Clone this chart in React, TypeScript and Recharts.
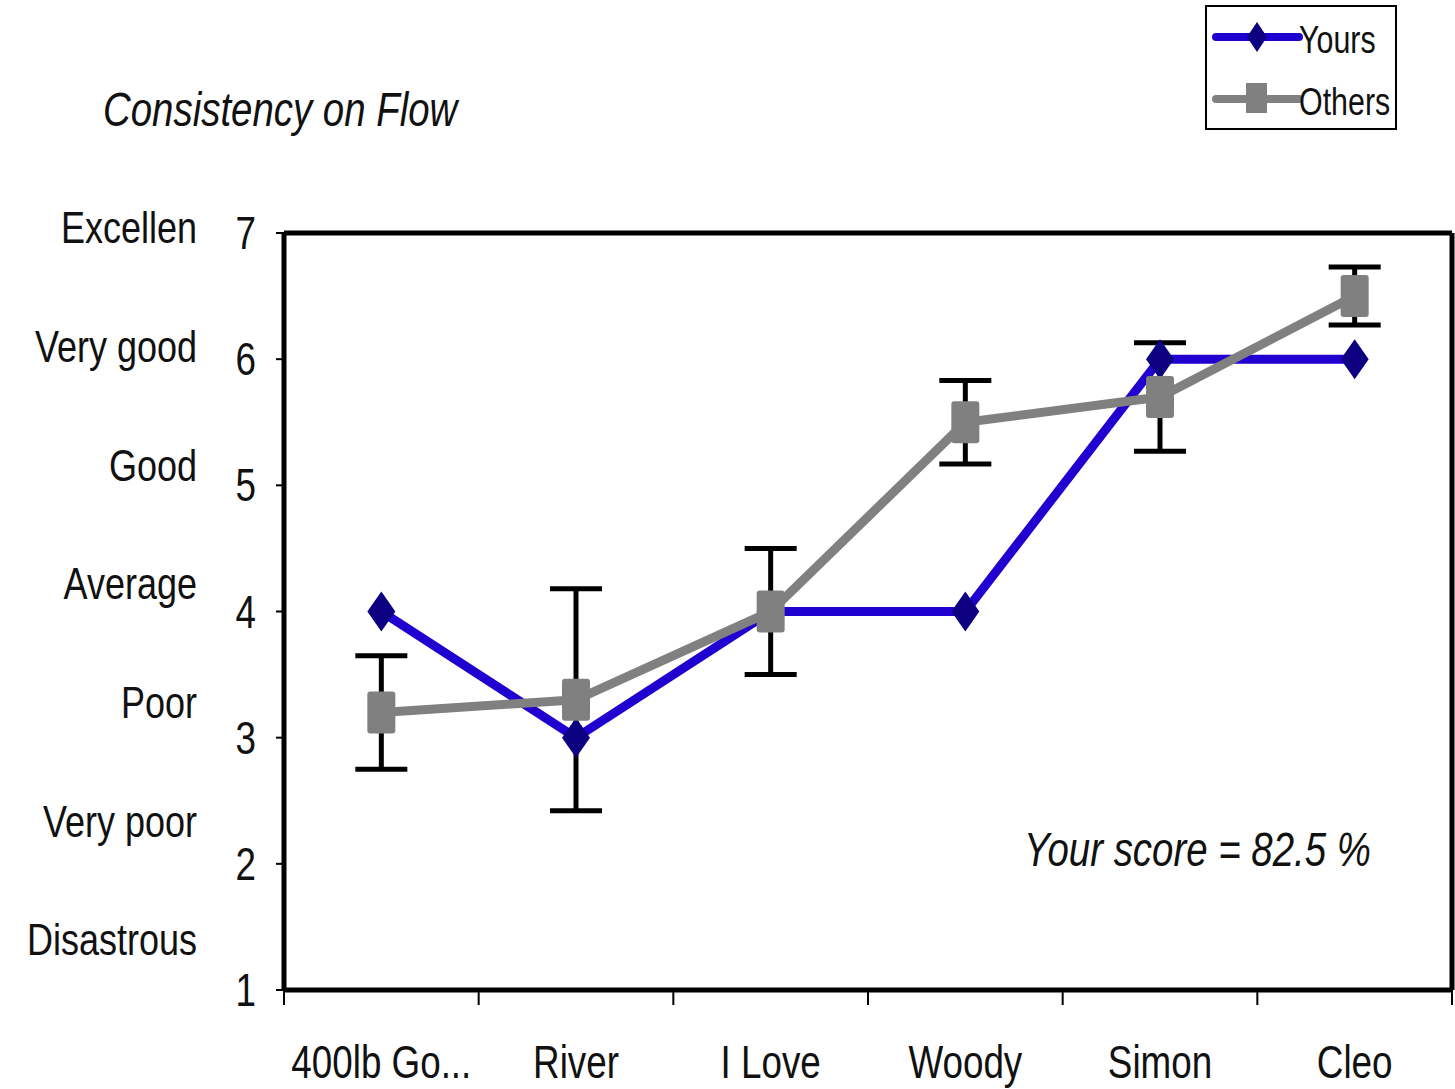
import React from 'react';
import { LineChart, Line, XAxis, YAxis, ErrorBar } from 'recharts';

// categories and series
const categories = ['400lb Go...', 'River', 'I Love', 'Woody', 'Simon', 'Cleo'];
const yours = [4, 3, 4, 4, 6, 6];
const others = [3.2, 3.3, 4.0, 5.5, 5.7, 6.5];
const othersErr = [0.45, 0.88, 0.5, 0.33, 0.43, 0.23];

const yTicks = [1, 2, 3, 4, 5, 6, 7];
const yLabels = ['Disastrous', 'Very poor', 'Poor', 'Average', 'Good', 'Very good', 'Excellen'];
// band edges (tick marks) and band centres (labels) on a 0..6 scale
const bandTicks = [0, 0.5, 1, 1.5, 2, 2.5, 3, 3.5, 4, 4.5, 5, 5.5, 6];

// each category sits in the middle of its band
const data = categories.map((name, i) => ({
  name,
  pos: i + 0.5,
  yours: yours[i],
  others: others[i],
  err: othersErr[i],
}));

const FONT = '"Liberation Sans", Arial, sans-serif';
const SQUEEZE = 0.8; // the reference uses a narrow face
const BLUE = '#1f00d0';
const NAVY = '#0d0080';
const GREY = '#808080';

const Diamond = (props: any) => {
  const { cx, cy } = props;
  if (cx == null || cy == null) return null;
  return <polygon points={`${cx},${cy - 20} ${cx + 14},${cy} ${cx},${cy + 20} ${cx - 14},${cy}`} fill={NAVY} />;
};

const Square = (props: any) => {
  const { cx, cy } = props;
  if (cx == null || cy == null) return null;
  return <rect x={cx - 14} y={cy - 21} width={28} height={42} rx={3} fill={GREY} />;
};

const NarrowText = ({ x, y, anchor, size, children }: any) => (
  <g transform={`translate(${x},${y}) scale(${SQUEEZE},1)`}>
    <text x={0} y={0} textAnchor={anchor} dominantBaseline="central" fontFamily={FONT} fontSize={size} fill="#111">
      {children}
    </text>
  </g>
);

const YTick = (props: any) => {
  const { x, y, payload } = props;
  const v = payload.value;
  const label = yLabels[yTicks.indexOf(v)];
  return (
    <g>
      <NarrowText x={x - 18} y={y} anchor="end" size={46}>{v}</NarrowText>
      <NarrowText x={197} y={y - 5 - (7 - v) * 7.5} anchor="end" size={45}>{label}</NarrowText>
    </g>
  );
};

const XTick = (props: any) => {
  const { x, y, payload } = props;
  const v = payload.value;
  if (Number.isInteger(v)) {
    return <line x1={x} y1={y} x2={x} y2={y + 15} stroke="#000" strokeWidth={2} />;
  }
  return <NarrowText x={x} y={y + 72} anchor="middle" size={46}>{categories[Math.floor(v)]}</NarrowText>;
};

const narrowDiv = (left: number, top: number, size: number, italic: boolean): React.CSSProperties => ({
  position: 'absolute',
  left,
  top,
  fontFamily: FONT,
  fontSize: size,
  fontStyle: italic ? 'italic' : 'normal',
  color: '#111',
  whiteSpace: 'nowrap',
  transform: `scaleX(${SQUEEZE})`,
  transformOrigin: 'left top',
  lineHeight: 1,
});

const LegendBox = () => (
  <div style={{ position: 'absolute', left: 1205, top: 5, border: '2px solid #000', width: 188, height: 121, background: '#fff' }}>
    <svg width={92} height={121} style={{ position: 'absolute', left: 4, top: 0 }}>
      <line x1={5} y1={30} x2={88} y2={30} stroke={BLUE} strokeWidth={8} strokeLinecap="round" />
      <polygon points="46,15 56,30 46,45 36,30" fill={NAVY} />
      <line x1={5} y1={92} x2={88} y2={92} stroke={GREY} strokeWidth={8} strokeLinecap="round" />
      <rect x={35} y={76} width={21} height={30} fill={GREY} />
    </svg>
    <div style={narrowDiv(92, 14, 38, false)}>Yours</div>
    <div style={narrowDiv(92, 76, 38, false)}>Others</div>
  </div>
);

export default function App() {
  return (
    <div style={{ position: 'absolute', left: 0, top: 0, width: 1455, height: 1089, background: '#fff' }}>
      <div style={narrowDiv(103, 86, 48, true)}>Consistency on Flow</div>
      <div style={narrowDiv(1024, 826, 48, true)}>Your score = 82.5 %</div>
      <LegendBox />
      <LineChart width={1455} height={1089} data={data} margin={{ top: 232, right: 0, bottom: 0, left: 0 }}>
        <XAxis
          dataKey="pos"
          type="number"
          domain={[0, 6]}
          allowDataOverflow
          ticks={bandTicks}
          interval={0}
          height={99}
          tickSize={0}
          tickMargin={0}
          tickLine={false}
          tick={<XTick />}
          axisLine={{ stroke: '#000', strokeWidth: 5 }}
        />
        <XAxis
          xAxisId="top"
          dataKey="pos"
          orientation="top"
          type="number"
          domain={[0, 6]}
          allowDataOverflow
          height={1}
          tick={false}
          tickLine={false}
          axisLine={{ stroke: '#000', strokeWidth: 5 }}
        />
        <YAxis
          domain={[1, 7]}
          ticks={yTicks}
          width={284}
          axisLine={{ stroke: '#000', strokeWidth: 5 }}
          tickLine={{ stroke: '#000', strokeWidth: 2 }}
          tickSize={8}
          tick={<YTick />}
          interval={0}
        />
        <YAxis
          yAxisId="right"
          orientation="right"
          domain={[1, 7]}
          width={3}
          tick={false}
          tickLine={false}
          axisLine={{ stroke: '#000', strokeWidth: 5 }}
        />
        <Line
          dataKey="yours"
          stroke={BLUE}
          strokeWidth={9}
          dot={<Diamond />}
          activeDot={false}
          isAnimationActive={false}
        />
        <Line
          dataKey="others"
          stroke={GREY}
          strokeWidth={9}
          dot={<Square />}
          activeDot={false}
          isAnimationActive={false}
        >
          <ErrorBar dataKey="err" width={26} strokeWidth={5} stroke="#000" direction="y" />
        </Line>
      </LineChart>
    </div>
  );
}
